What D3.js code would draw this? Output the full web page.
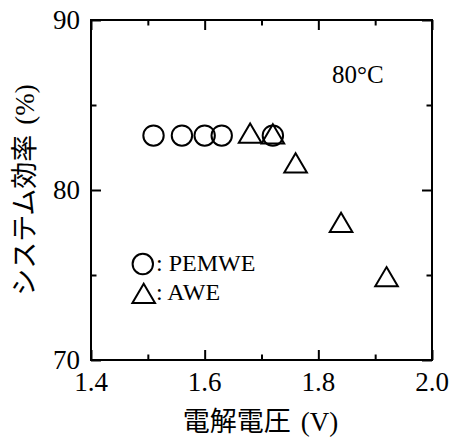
<!DOCTYPE html>
<html>
<head>
<meta charset="utf-8">
<script src="https://cdn.jsdelivr.net/npm/d3@7"></script>
</head>
<body>
<script>
// PEMWE: electrolysis voltage (V) vs system efficiency (%)
const pemVoltage = [1.51, 1.56, 1.60, 1.63, 1.72];
const pemEfficiency = [83.2, 83.2, 83.2, 83.2, 83.2];
// AWE
const aweVoltage = [1.68, 1.72, 1.76, 1.84, 1.92];
const aweEfficiency = [83.35, 83.3, 81.6, 78.1, 74.9];

const xTicks = [1.4, 1.6, 1.8, 2.0];
const xMinorTicks = [1.5, 1.7, 1.9];
const yTicks = [70, 80, 90];
const yMinorTicks = [75, 85];

const W = 452, H = 439;
const margin = { left: 91, right: 20, top: 20, bottom: 79 };
const serif = "Liberation Serif";
const gothic = "Noto Sans CJK JP";

d3.select("body").style("margin", "0px");
const svg = d3.select("body").append("svg")
  .attr("width", W).attr("height", H)
  .style("display", "block")
  .style("font-family", serif);

const x = d3.scaleLinear().domain([1.4, 2.0]).range([margin.left, W - margin.right]);
const y = d3.scaleLinear().domain([70, 90]).range([H - margin.bottom, margin.top]);

const x0 = x.range()[0], x1 = x.range()[1];
const y0 = y.range()[0], y1 = y.range()[1];

// Inward ticks on all four sides
function tickAxis(axisGen, transform) {
  const g = svg.append("g").attr("transform", transform).call(axisGen);
  g.select(".domain").remove();
  g.selectAll("line").attr("stroke", "#000").attr("stroke-width", 2);
  return g;
}
const major = 10, minor = 5.5;
tickAxis(d3.axisBottom(x).tickValues(xTicks).tickSize(-major).tickFormat(""), `translate(0,${y0})`);
tickAxis(d3.axisBottom(x).tickValues(xMinorTicks).tickSize(-minor).tickFormat(""), `translate(0,${y0})`);
tickAxis(d3.axisTop(x).tickValues(xTicks).tickSize(-major).tickFormat(""), `translate(0,${y1})`);
tickAxis(d3.axisTop(x).tickValues(xMinorTicks).tickSize(-minor).tickFormat(""), `translate(0,${y1})`);
tickAxis(d3.axisLeft(y).tickValues(yTicks).tickSize(-major).tickFormat(""), `translate(${x0},0)`);
tickAxis(d3.axisLeft(y).tickValues(yMinorTicks).tickSize(-minor).tickFormat(""), `translate(${x0},0)`);
tickAxis(d3.axisRight(y).tickValues(yTicks).tickSize(-major).tickFormat(""), `translate(${x1},0)`);
tickAxis(d3.axisRight(y).tickValues(yMinorTicks).tickSize(-minor).tickFormat(""), `translate(${x1},0)`);

// Frame
svg.append("rect")
  .attr("x", x0).attr("y", y1)
  .attr("width", x1 - x0).attr("height", y0 - y1)
  .attr("fill", "none").attr("stroke", "#000").attr("stroke-width", 2);

// Tick labels
svg.append("g").selectAll("text").data(xTicks).join("text")
  .attr("x", d => x(d)).attr("y", y0 + 31)
  .attr("text-anchor", "middle")
  .style("font-family", serif).attr("font-size", 27)
  .text(d => d.toFixed(1));

svg.append("g").selectAll("text").data(yTicks).join("text")
  .attr("x", x0 - 11).attr("y", d => y(d) + 9)
  .attr("text-anchor", "end")
  .style("font-family", serif).attr("font-size", 27)
  .text(d => d);

// Axis titles
const xt = svg.append("text")
  .attr("x", (x0 + x1) / 2 - 1).attr("y", 431)
  .attr("text-anchor", "middle").attr("font-size", 27);
xt.append("tspan").style("font-family", gothic).text("電解電圧");
xt.append("tspan").style("font-family", serif).attr("dx", 10).text("(V)");

const yt = svg.append("text")
  .attr("transform", `translate(34,${(y0 + y1) / 2}) rotate(-90)`)
  .attr("text-anchor", "middle").attr("font-size", 27);
yt.append("tspan").style("font-family", gothic).text("システム効率");
yt.append("tspan").style("font-family", serif).attr("dx", 10).text("(%)");

// Markers
const triPath = (half, hh) => `M0,${-hh}L${half},${hh}L${-half},${hh}Z`;

svg.append("g").selectAll("circle").data(pemVoltage).join("circle")
  .attr("cx", d => x(d)).attr("cy", (d, i) => y(pemEfficiency[i]))
  .attr("r", 10.2)
  .attr("fill", "none").attr("stroke", "#000").attr("stroke-width", 2);

svg.append("g").selectAll("path").data(aweVoltage).join("path")
  .attr("transform", (d, i) => `translate(${x(d)},${y(aweEfficiency[i])})`)
  .attr("d", triPath(11.3, 9.6))
  .attr("fill", "none").attr("stroke", "#000").attr("stroke-width", 2);

// Temperature annotation
svg.append("text")
  .attr("x", 332).attr("y", 83)
  .style("font-family", serif).attr("font-size", 25)
  .text("80°C");

// Legend
svg.append("circle")
  .attr("cx", 142.8).attr("cy", 264).attr("r", 10.2)
  .attr("fill", "none").attr("stroke", "#000").attr("stroke-width", 2);
svg.append("path")
  .attr("transform", "translate(143.7,293.3)")
  .attr("d", triPath(11.3, 9.6))
  .attr("fill", "none").attr("stroke", "#000").attr("stroke-width", 2);
svg.append("text")
  .attr("x", 156).attr("y", 270.5)
  .style("font-family", serif).attr("font-size", 24)
  .text(": PEMWE");
svg.append("text")
  .attr("x", 156).attr("y", 300)
  .style("font-family", serif).attr("font-size", 24)
  .text(": AWE");
</script>
</body>
</html>
